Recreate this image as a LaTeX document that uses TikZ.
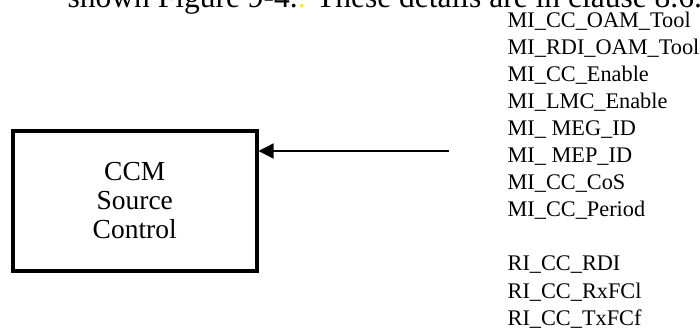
\documentclass[tikz,border=0pt]{standalone}
\usepackage{fontspec}
\setmainfont{Liberation Serif}
\usetikzlibrary{arrows.meta}

\tikzset{
  sig/.style={anchor=base west,inner sep=0pt,font=\fontsize{22.3}{27}\selectfont},
  ctlbox/.style={draw,line width=4pt,minimum width=243.5pt,minimum height=140.5pt,
    align=center,font=\fontsize{27.5}{29}\selectfont},
}

\begin{document}
\begin{tikzpicture}[x=1pt,y=-1pt,line width=1.3pt,>={Triangle[length=15pt,width=15pt]}]
\useasboundingbox (0,0) rectangle (700,332);
\clip (0,0) rectangle (700,332);
% ---------- heading line, cut at the top ----------
\node[anchor=base west,inner sep=0pt,font=\fontsize{31.5}{36}\selectfont] (head) at (67,7)
  {shown Figure 9-4.\textcolor{yellow}{.} These details are in clause 8.6.};
% ---------- source control block ----------
\node[ctlbox] (ccm) at (134.75,200.75) {CCM\\Source\\Control};
% ---------- MI and RI signals ----------
\foreach \s [count=\i from 0] in {MI\_CC\_OAM\_Tool,MI\_RDI\_OAM\_Tool,MI\_CC\_Enable,
    MI\_LMC\_Enable,MI\_ MEG\_ID,MI\_ MEP\_ID,MI\_CC\_CoS,MI\_CC\_Period}
  \node[sig] (mi\i) at (507,27+27.1*\i) {\s};
\foreach \s [count=\i from 9] in {RI\_CC\_RDI,RI\_CC\_RxFCl,RI\_CC\_TxFCf}
  \node[sig] (ri\i) at (507,27+27.1*\i) {\s};
% input arrow into the block
\coordinate (ctlin) at (449,151);
\draw[->] (ctlin) -- (ccm.east |- ctlin);
\end{tikzpicture}
\end{document}
